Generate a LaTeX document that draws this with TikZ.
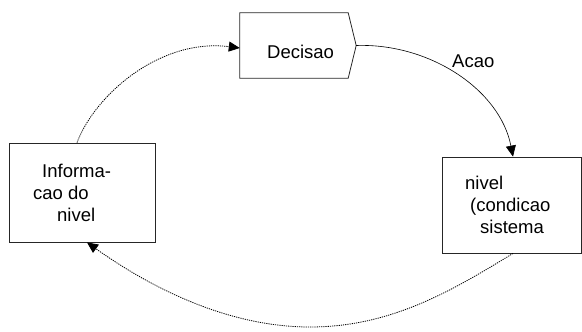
\documentclass[tikz,border=0pt]{standalone}
\usepackage{fontspec}
\setmainfont{Liberation Sans}
\usetikzlibrary{arrows.meta}

\begin{document}
\begin{tikzpicture}[
    x=1pt, y=-1pt,
    mybox/.style={draw=black!85, line width=0.8pt, inner sep=0pt},
    mytext/.style={font=\fontsize{18.5}{22}\selectfont, inner sep=0pt, align=left, anchor=base west},
    myarrow/.style={-{Triangle[length=11pt,width=10pt]}, line width=0.6pt},
    mydotted/.style={myarrow, line width=0.8pt, dash pattern=on 1.2pt off 1pt}
]
  \useasboundingbox (0,0) rectangle (582,332);

  % Nodes
  \node[mybox, minimum width=146pt, minimum height=99pt] (info) at (82,192.5) {};
  \node[mybox, minimum width=139pt, minimum height=96pt] (nivel) at (511.5,205) {};
  \node[inner sep=0pt, minimum width=108pt, minimum height=65pt] (decisao) at (294,45.5) {};
  \coordinate (tip) at ([xshift=8pt]decisao.east);
  \draw[mybox] (decisao.north west) -- (decisao.north east) -- (tip)
    -- (decisao.south east) -- (decisao.south west) -- cycle;

  % Texts (base = last line)
  \node[mytext] (decisaotext) at (267,58.3) {Decisao};
  \node[mytext] (acao) at (452,67) {Acao};
  \node[mytext] (infotext) at (33,221.7) {\hspace*{9pt}Informa-\\cao do\\\hspace*{24pt}nivel};
  \node[mytext] (niveltext) at (465,233) {nivel\\\hspace*{5pt}(condicao\\\hspace*{15pt}sistema};

  % Arrows
  \draw[myarrow] (tip) .. controls (430,43) and (500,90) .. ([xshift=1.5pt]nivel.north);
  \draw[mydotted] ([xshift=1.5pt]nivel.south) .. controls (450,292) and (390,327) .. (310,327)
    .. controls (220,327) and (140,280) .. ([xshift=5pt]info.south);
  \draw[mydotted] ([xshift=-5pt]info.north) .. controls (95,95) and (160,38) .. ([yshift=-2.5pt]decisao.west);

\end{tikzpicture}
\end{document}
